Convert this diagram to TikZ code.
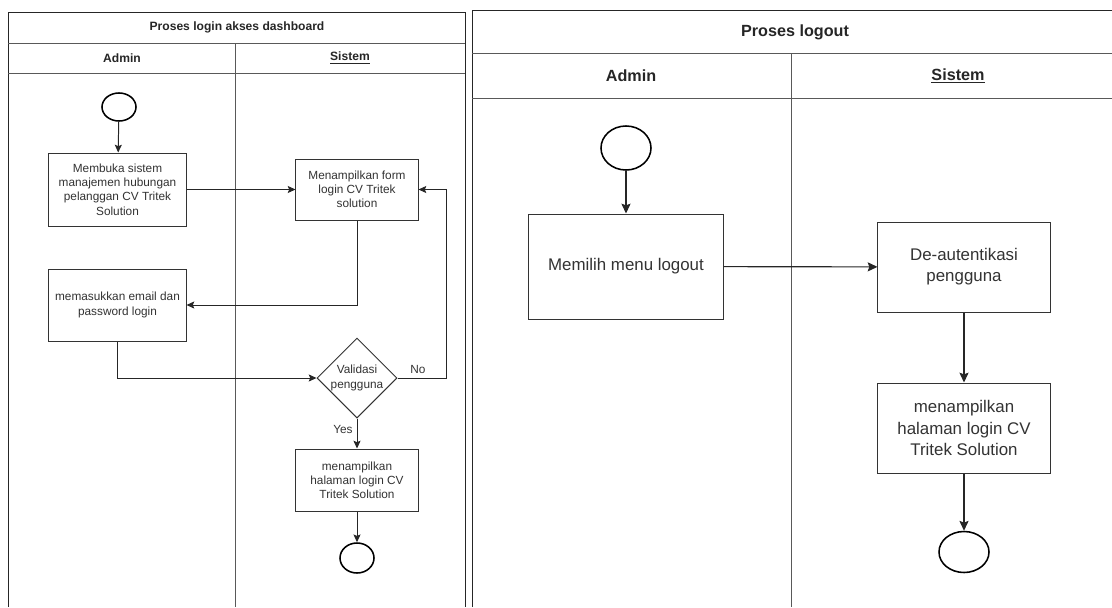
\documentclass[tikz,border=0pt]{standalone}
\usepackage{fontspec}
\setmainfont{Liberation Sans}
\usepackage{tikz}
\usetikzlibrary{arrows.meta,shapes.geometric,positioning}

\begin{document}
\begin{tikzpicture}[x=0.025cm,y=-0.025cm,
	garis/.style={draw=black!85, line width=0.7pt},
	kotak/.style={draw=black!80, fill=white, align=center, inner sep=1pt, text=black!80, line width=0.7pt},
	kecil/.style={kotak, font=\fontsize{8.4}{10.1}\selectfont},
	besar/.style={kotak, font=\fontsize{12}{15}\selectfont},
	bulat/.style={draw=black, line width=1.1pt, ellipse, inner sep=0pt},
	panah/.style={-{Stealth[length=5.5pt,width=5pt,inset=1pt]}, black!85, line width=0.7pt},
	panahbesar/.style={-{Stealth[length=7pt,width=6.5pt,inset=1.2pt]}, black!85, line width=0.8pt},
	]
	\useasboundingbox (0,0) rectangle (1112,607);
	
	% Proses login
	\draw[garis] (8,607) -- (8,12) -- (465,12) -- (465,607);
	\draw[garis, draw=black!65] (8,43) -- (465,43) (8,73) -- (465,73) (235,43) -- (235,607);
	\node (judul1) at (237,27) [font=\fontsize{8.6}{10}\selectfont\bfseries, text=black!85] {Proses login akses dashboard};
	\node (admin1) at (122,58) [font=\fontsize{8.6}{10}\selectfont\bfseries, text=black!85] {Admin};
	\node (sistem1) at (350,58) [font=\fontsize{8.6}{10}\selectfont\bfseries, text=black!85] {\underline{Sistem}};
	
	\node[bulat, minimum width=0.85cm, minimum height=0.7cm] (mulai1) at (119,107) {};
	\node[kecil, minimum width=3.425cm, minimum height=1.825cm] (buka) at (117.5,189.5) {Membuka sistem\\manajemen hubungan\\pelanggan CV Tritek\\Solution};
	\node[kecil, minimum width=3.05cm, minimum height=1.525cm] (form) at (357,189.5) {Menampilkan form\\login CV Tritek\\solution};
	\node[kecil, minimum width=3.425cm, minimum height=1.8cm] (isi) at (117.5,305) {memasukkan email dan\\password login};
	\node[kecil, diamond, inner sep=0pt, minimum width=2cm, minimum height=2cm] (valid) at (357,378) {Validasi\\pengguna};
	\node[kecil, minimum width=3.05cm, minimum height=1.55cm] (tampil) at (357,480) {menampilkan\\halaman login CV\\Tritek Solution};
	\node[bulat, minimum width=0.85cm, minimum height=0.75cm] (selesai1) at (357,558) {};
	\coordinate (belok) at (446,378);
	
	\draw[panah] (mulai1) -- (buka);
	\draw[panah] (buka) -- (form);
	\draw[panah] (form.south) |- (isi.east);
	\draw[panah] (isi.south) |- (valid.west);
	\draw[panah] (valid.east) -- (belok) |- (form.east);
	\draw[panah] (valid) -- (tampil);
	\draw[panah] (tampil) -- (selesai1);
	\node (no) at (418,369) [font=\fontsize{8.4}{10}\selectfont, text=black!80] {No};
	\node (yes) at (343,429) [font=\fontsize{8.4}{10}\selectfont, text=black!80] {Yes};
	
	% Proses logout
	\draw[garis] (472,607) -- (472,10) -- (1112,10);
	\draw[garis, draw=black!65] (472,53) -- (1112,53) (472,98) -- (1112,98) (791,53) -- (791,607);
	\node (judul2) at (795,32) [font=\fontsize{11.5}{13}\selectfont\bfseries, text=black!85] {Proses logout};
	\node (admin2) at (631,76) [font=\fontsize{11.5}{13}\selectfont\bfseries, text=black!85] {Admin};
	\node (sistem2) at (958,76) [font=\fontsize{11.5}{13}\selectfont\bfseries, text=black!85] {\underline{Sistem}};
	
	\node[bulat, minimum width=1.25cm, minimum height=1.1cm] (mulai2) at (626,148) {};
	\node[besar, minimum width=4.85cm, minimum height=2.625cm] (logout) at (626,266.5) {Memilih menu logout};
	\node[besar, minimum width=4.3cm, minimum height=2.25cm] (deauth) at (964,267) {De-autentikasi\\pengguna};
	\node[besar, minimum width=4.3cm, minimum height=2.25cm] (halaman) at (964,428) {menampilkan\\halaman login CV\\Tritek Solution};
	\node[bulat, minimum width=1.25cm, minimum height=1.025cm] (selesai2) at (964,552) {};
	
	\draw[panahbesar] (mulai2) -- (logout);
	\draw[panahbesar] (logout) -- (deauth);
	\draw[panahbesar] (deauth) -- (halaman);
	\draw[panahbesar] (halaman) -- (selesai2);
\end{tikzpicture}
\end{document}
